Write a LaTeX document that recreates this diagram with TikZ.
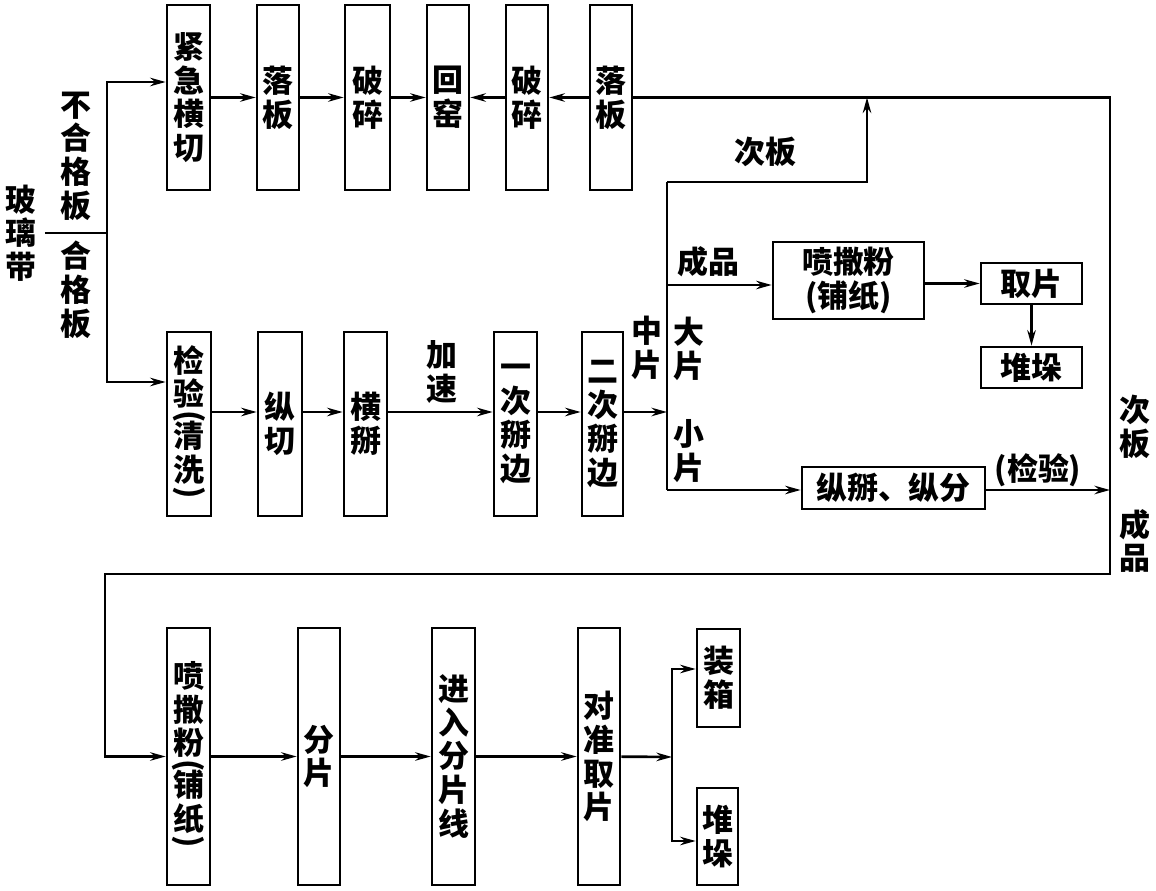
\documentclass[tikz,border=0pt]{standalone}
\usepackage{fontspec}
\setmainfont{Noto Sans CJK SC}
\usepackage{graphicx}
\usetikzlibrary{arrows.meta}
\newcommand{\vlp}{\rotatebox[origin=c]{-90}{(}}
\newcommand{\vrp}{\rotatebox[origin=c]{-90}{)}}

\begin{document}
\begin{tikzpicture}[x=0.025cm,y=-0.025cm,
    every node/.style={inner sep=0pt,align=center,font=\fontsize{22}{24}\selectfont\bfseries},
    box/.style 2 args={draw,line width=1.9pt,minimum width=#1*0.025cm,minimum height=#2*0.025cm},
    ln/.style={line width=1.9pt},
    arr/.style={line width=1.9pt,-{Stealth[length=11pt,width=6pt]}}]
            \useasboundingbox (0,0) rectangle (1156,891);
            \node (blgd) [inner xsep=0.2cm] at (21,233) {玻\\璃\\带};
            \node (bhgb) at (76,156) {不\\合\\格\\板};
            \node (hgb) at (76,290) {合\\格\\板};
            \coordinate (split) at (107,233);
            \coordinate (in-top) at (107,82);
            \coordinate (in-mid) at (107,382);
            \node (jjhq) [box={43}{185}] at (188.5,97.5) {紧\\急\\横\\切};
            \node (lb1) [box={42}{185}] at (278,97.5) {落\\板};
            \node (ps1) [box={45}{185}] at (367.5,97.5) {破\\碎};
            \node (hy) [box={42}{185}] at (448,97.5) {回\\窑};
            \node (ps2) [box={42}{185}] at (527,97.5) {破\\碎};
            \node (lb2) [box={42}{185}] at (611,97.5) {落\\板};
            \node (jy) [box={44}{184}] at (189,424) {检\\验\\[-9pt]\vlp\\[-9pt]清\\洗\\[-9pt]\vrp};
            \node (zq) [box={44}{184}] at (280,424) {纵\\切};
            \node (hb) [box={43}{184}] at (365.5,424) {横\\掰};
            \node (js) at (442,372) {加\\速};
            \node (ycbb) [box={43}{184}] at (515.5,424) {一\\次\\掰\\边};
            \node (ecbb) [box={41}{184}] at (602.5,424) {二\\次\\掰\\边};
            \coordinate (mline) at (0,412);
            \coordinate (jmid) at (667,412);
            \coordinate (jtop) at (667,182);
            \coordinate (jbot) at (667,490);
            \coordinate (jcp) at (667,285);
            \coordinate (cbt) at (867,182);
            \node (zp) at (647,348) {中\\片};
            \node (dp) at (689,349) {大\\片};
            \node (xp) at (689,451) {小\\片};
            \node (cb1) at (765,152) {次板};
            \node (cp1) at (708,262) {成品};
            \node (pfz1) [box={151}{77}] at (848.5,280.5) {喷撒粉\\(铺纸)};
            \node (qp) [box={101}{41}] at (1031.5,283.5) {取片};
            \node (dd1) [box={101}{41}] at (1031.5,367.5) {堆垛};
            \node (zbzf) [box={183}{42}] at (893.5,488) {纵掰、纵分};
            \node (jyl) at (1038,470) {(检验)};
            \coordinate (ne) at (1110,97.5);
            \coordinate (se) at (1110,574);
            \coordinate (sw) at (105,574);
            \node (cb2) at (1135,427) {次\\板};
            \node (cp2) at (1135,541) {成\\品};
            \node (pfz2) [box={43}{257}] at (188.5,756.5) {喷\\撒\\粉\\[-9pt]\vlp\\[-9pt]铺\\纸\\[-9pt]\vrp};
            \node (fp) [box={42}{257}] at (319,756.5) {分\\片};
            \node (jr) [box={43}{257}] at (453.5,756.5) {进\\入\\分\\片\\线};
            \node (dzqp) [box={42}{257}] at (599,756.5) {对\\准\\取\\片};
            \coordinate (bj) at (672,757);
            \coordinate (bj-up) at (672,669);
            \coordinate (bj-dn) at (672,841);
            \node (zx) [box={43}{98}] at (718.5,678) {装\\箱};
            \node (dd2) [box={41}{97}] at (717.5,836.5) {堆\\垛};
            \draw [ln] (blgd.east) -- (split);
            \draw [arr] (split) -- (in-top) -- (in-top -| jjhq.west);
            \draw [arr] (split) -- (in-mid) -- (in-mid -| jy.west);
            \draw [arr] (jjhq) -- (lb1);
            \draw [arr] (lb1) -- (ps1);
            \draw [arr] (ps1) -- (hy);
            \draw [arr] (ps2) -- (hy);
            \draw [arr] (lb2) -- (ps2);
            \draw [arr] (lb2) -- (ne) -- (se) -- (sw) |- (pfz2);
            \draw [arr] (jy.east |- mline) -- (zq.west |- mline);
            \draw [arr] (zq.east |- mline) -- (hb.west |- mline);
            \draw [arr] (hb.east |- mline) -- (ycbb.west |- mline);
            \draw [arr] (ycbb.east |- mline) -- (ecbb.west |- mline);
            \draw [arr] (ecbb.east |- mline) -- (jmid);
            \draw [ln] (jtop) -- (jbot);
            \draw [arr] (jtop) -- (cbt) -- (cbt |- lb2);
            \draw [arr] (jcp) -- (jcp -| pfz1.west);
            \draw [arr] (pfz1.east |- qp) -- (qp);
            \draw [arr] (qp) -- (dd1);
            \draw [arr] (jbot) -- (jbot -| zbzf.west);
            \draw [arr] (jbot -| zbzf.east) -- (jbot -| se);
            \draw [arr] (pfz2) -- (fp);
            \draw [arr] (fp) -- (jr);
            \draw [arr] (jr) -- (dzqp);
            \draw [arr] (dzqp) -- (bj);
            \draw [arr] (bj) -- (bj-up) -- (bj-up -| zx.west);
            \draw [arr] (bj) -- (bj-dn) -- (bj-dn -| dd2.west);
        \end{tikzpicture}
\end{document}
